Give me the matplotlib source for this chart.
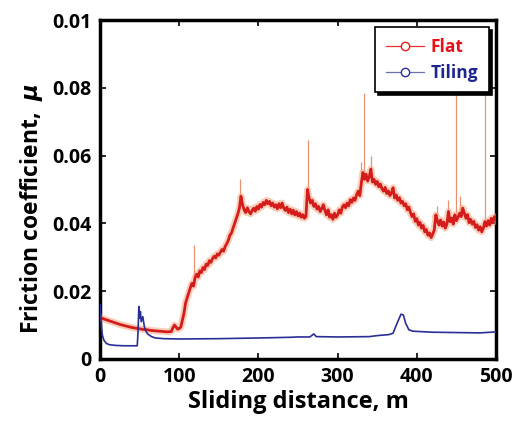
import numpy as np
import matplotlib
matplotlib.use('Agg')
from matplotlib import pyplot as plt

plt.rcParams['font.family'] = ['Open Sans', 'DejaVu Sans']
plt.rcParams['font.weight'] = 'bold'

# Flat: friction coefficient (x1e-3) vs sliding distance (m)
flat_x = [0, 5, 10, 15, 20, 25, 30, 35, 40, 45, 50, 55, 60, 65, 70, 75, 80, 85, 90, 92, 94, 96, 98, 100] + list(range(102, 501, 2))
flat_mu = [12.2, 11.8, 11.4, 11.0, 10.6, 10.2, 9.9, 9.6, 9.3, 9.1, 8.9, 8.7, 8.6, 8.4, 8.3, 8.2, 8.1, 8.0, 8.1, 9.2, 10.0, 9.4, 8.8, 9.0,
           9.4, 11.5, 13.5, 16.5, 18.0,
           19.5, 21.0, 22.3, 21.5, 24.0,
           25.0, 24.2, 26.0, 25.5, 27.0,
           26.4, 28.0, 27.6, 29.0, 28.5,
           29.6, 30.3, 29.8, 31.0, 30.6,
           31.5, 32.3, 31.8, 33.2, 34.0,
           35.0, 36.5, 37.2, 38.6, 40.0,
           41.5, 42.8, 44.5, 48.0, 45.5,
           44.0, 43.2, 44.6, 43.5, 42.8,
           43.8, 44.5, 43.6, 45.0, 44.2,
           45.6, 44.8, 46.2, 45.5, 46.8,
           45.8, 46.5, 45.2, 46.0, 44.8,
           45.5, 44.3, 45.8, 44.6, 46.0,
           44.5, 43.8, 44.8, 43.2, 44.2,
           42.8, 43.9, 42.5, 43.5, 42.2,
           43.0, 41.8, 42.6, 41.5, 42.0,
           50.0, 47.5, 46.0, 46.8, 45.0,
           45.8, 44.2, 45.0, 43.5, 44.4,
           45.5, 43.8, 42.5, 44.0, 41.8,
           42.6, 41.2, 43.0, 41.8, 42.5,
           44.0, 43.0, 44.8, 45.5, 44.6,
           46.0, 45.2, 47.0, 46.2, 47.5,
           46.8, 48.5, 49.5, 48.2, 52.0,
           55.0, 53.0, 54.5, 52.5, 53.8,
           56.0, 52.2, 53.0, 51.5, 52.4,
           50.8, 51.6, 50.2, 49.5, 50.6,
           48.8, 49.6, 48.2, 49.0, 50.5,
           47.5, 48.4, 46.8, 47.6, 46.0,
           46.5, 45.2, 45.8, 44.0, 44.8,
           43.2, 42.0, 42.8, 40.6, 41.4,
           39.5, 40.3, 38.6, 39.4, 37.5,
           38.2, 36.5, 37.2, 35.8, 36.8,
           38.0, 42.5, 40.8, 39.5, 41.0,
           39.2, 40.4, 38.6, 39.8, 43.5,
           40.5, 41.6, 39.8, 42.5, 40.8,
           41.8, 43.0, 42.0, 44.5, 43.0,
           41.5, 42.6, 40.2, 41.2, 39.8,
           40.6, 38.8, 39.6, 38.0, 39.0,
           37.5, 38.6, 40.5, 39.2, 40.8,
           39.5, 41.5, 40.2, 42.0, 41.2]

# thin spikes on the Flat trace
spike_x = [119, 177, 262, 330, 333, 342, 370, 425, 440, 449, 455, 486]
spike_top = [33.5, 53.0, 64.5, 58.0, 78.5, 60.0, 51.0, 45.0, 47.0, 85.0, 48.0, 85.0]

# Tiling
tiling_x = [0, 1, 2, 3, 5, 8, 12, 20, 30, 40, 47, 48, 49, 50, 51, 52, 54, 56, 58, 60, 65, 70, 80, 100, 150, 200,
            240, 250, 265, 270, 273, 300, 340, 350, 365, 370, 375, 380, 383, 386, 390, 395, 420, 450, 480, 500]
tiling_mu = [16.0, 13.0, 9.0, 7.0, 5.5, 4.6, 4.2, 4.0, 3.9, 3.9, 3.9, 8.0, 15.5, 12.0, 14.0, 11.0, 12.5, 9.5, 8.2, 7.4,
             6.6, 6.2, 6.0, 5.9, 6.0, 6.2, 6.4, 6.5, 6.5, 7.4, 6.6, 6.5, 6.6, 6.9, 7.2, 7.6, 10.5, 13.2, 13.0,
             10.5, 8.6, 8.2, 7.9, 7.8, 7.7, 8.0]

y_ticks = [0, 0.02, 0.04, 0.06, 0.08, 0.1]
y_tick_labels = ['0', '0.02', '0.04', '0.06', '0.08', '0.01']
x_ticks = [0, 100, 200, 300, 400, 500]

red = '#d41c1c'
blue = '#2a2f96'

fig = plt.figure(figsize=(5.14, 4.22), dpi=100)
ax = fig.add_axes([0.1946, 0.1493, 0.7704, 0.8033])

fx = np.array(flat_x)
fm = np.array(flat_mu) / 1000
sx = np.array(spike_x)
base = np.interp(sx, fx, fm)
ax.vlines(sx, base, np.array(spike_top) / 1000, color='#e89070', lw=0.9, zorder=2)
ax.plot(fx, fm, color='#f2a882', lw=5, alpha=0.55, zorder=3)
ax.plot(fx, fm, color=red, lw=2, zorder=4)
ax.plot(tiling_x, np.array(tiling_mu) / 1000, color=blue, lw=1.2, zorder=4)

ax.set_xlim(0, 500)
ax.set_ylim(0, 0.1)
ax.set_xticks(x_ticks)
ax.set_yticks(y_ticks)
ax.set_yticklabels(y_tick_labels)
ax.tick_params(direction='in', length=4, width=1.2, top=True, right=True,
               labelsize=14, pad=6)
for lab in ax.get_xticklabels() + ax.get_yticklabels():
    lab.set_fontweight('bold')
for sp in ax.spines.values():
    sp.set_linewidth(2.5)

ax.set_xlabel('Sliding distance, m', fontsize=17, fontweight='bold', labelpad=2)
ax.set_ylabel('Friction coefficient,  $\\mu$', fontsize=16.5, fontweight='bold')
ax.yaxis.set_label_coords(-0.14, 0.445)

h1 = plt.Line2D([], [], color='#e83030', lw=0.9, marker='o', mfc='white', mec='#e02020', ms=6)
h2 = plt.Line2D([], [], color='#6a72b4', lw=0.9, marker='o', mfc='white', mec='#2a2f96', ms=6)
leg = ax.legend([h1, h2], ['Flat', 'Tiling'], loc='upper right', bbox_to_anchor=(0.982, 0.978),
                frameon=True, fancybox=False, edgecolor='black', framealpha=1,
                shadow={'color': 'black', 'alpha': 1}, handlelength=2.2,
                prop={'weight': 'bold', 'size': 12.5}, borderpad=0.6, labelspacing=0.45,
                handletextpad=0.4, borderaxespad=0)
leg.get_frame().set_linewidth(1.2)
leg.set_zorder(10)
leg.get_texts()[0].set_color('#e8101a')
leg.get_texts()[1].set_color('#1c2690')

fig.savefig('out.png', dpi=100)
